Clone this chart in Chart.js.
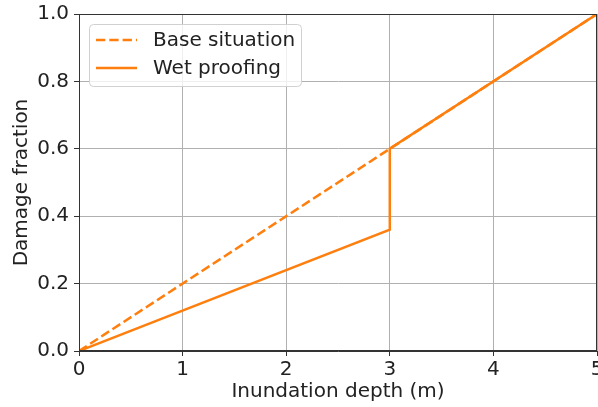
<!DOCTYPE html>
<html><head><meta charset="utf-8">
<script src="https://cdn.jsdelivr.net/npm/chart.js@4"></script>
<style>html,body{margin:0;padding:0;background:#fff}#wrap{width:598px;height:407px}</style>
</head><body><div id="wrap"><canvas id="c" width="598" height="407"></canvas></div>
<script>
const baseX = [0, 5];
const baseY = [0, 1];
const wetX = [0, 3, 3, 5];
const wetY = [0, 0.36, 0.6, 1];
const xTicks = [0, 1, 2, 3, 4, 5];
const yTicks = [0, 0.2, 0.4, 0.6, 0.8, 1.0];
const seriesLabels = ['Base situation', 'Wet proofing'];
const FONT = 'DejaVu Sans';
const ORANGE = '#ff7f0e';
const FS = 20;

const toPts = (xs, ys) => xs.map((x, i) => ({x, y: ys[i]}));

const framePlugin = {
  id: 'frame',
  afterDatasetsDraw(chart) {
    const {ctx, chartArea: a} = chart;
    ctx.save();
    ctx.strokeStyle = '#333';
    ctx.lineWidth = 1;
    ctx.strokeRect(a.left + 0.5, a.top + 0.5, a.right - a.left - 1, a.bottom - a.top - 1);
    // legend
    const x0 = 89.5, y0 = 24.5, w = 212, h = 62, r = 4;
    ctx.beginPath();
    ctx.moveTo(x0 + r, y0);
    ctx.arcTo(x0 + w, y0, x0 + w, y0 + h, r);
    ctx.arcTo(x0 + w, y0 + h, x0, y0 + h, r);
    ctx.arcTo(x0, y0 + h, x0, y0, r);
    ctx.arcTo(x0, y0, x0 + w, y0, r);
    ctx.closePath();
    ctx.fillStyle = 'rgba(255,255,255,0.8)';
    ctx.fill();
    ctx.strokeStyle = '#d0d0d0';
    ctx.stroke();
    ctx.font = FS + 'px "' + FONT + '"';
    ctx.textBaseline = 'middle';
    ctx.fillStyle = '#222';
    chart.data.datasets.forEach((ds, i) => {
      const yy = 40 + i * 28;
      ctx.strokeStyle = ds.borderColor;
      ctx.lineWidth = 2.5;
      ctx.setLineDash(ds.borderDash || []);
      ctx.beginPath();
      ctx.moveTo(96, yy);
      ctx.lineTo(137, yy);
      ctx.stroke();
      ctx.setLineDash([]);
      ctx.fillText(ds.label, 153, yy + 1);
    });
    ctx.restore();
  }
};

new Chart(document.getElementById('c'), {
  type: 'scatter',
  data: {
    datasets: [
      {label: seriesLabels[0], data: toPts(baseX, baseY), showLine: true, borderColor: ORANGE, borderWidth: 2.5, borderDash: [9.3, 4], pointRadius: 0, fill: false},
      {label: seriesLabels[1], data: toPts(wetX, wetY), showLine: true, borderColor: ORANGE, borderWidth: 2.5, pointRadius: 0, fill: false}
    ]
  },
  options: {
    responsive: false,
    animation: false,
    devicePixelRatio: 1,
    layout: {padding: {top: 14, right: 1, left: 0, bottom: 0}, autoPadding: false},
    plugins: {legend: {display: false}, tooltip: {enabled: false}},
    scales: {
      x: {
        type: 'linear', min: 0, max: 5,
        afterBuildTicks: s => { s.ticks = xTicks.map(v => ({value: v})); },
        afterFit: s => { s.height = 56; s.paddingLeft = 0; s.paddingRight = 0; },
        grid: {color: '#b0b0b0', lineWidth: 1, tickLength: 5, tickColor: '#333', drawOnChartArea: true},
        border: {color: '#333', width: 1},
        ticks: {font: {family: FONT, size: FS}, color: '#222', padding: 2, maxRotation: 0, callback: v => String(v)},
        title: {display: true, text: 'Inundation depth (m)', font: {family: FONT, size: FS}, color: '#222', padding: {top: 0, bottom: 3}}
      },
      y: {
        type: 'linear', min: 0, max: 1,
        afterBuildTicks: s => { s.ticks = yTicks.map(v => ({value: v})); },
        afterFit: s => { s.width = 79; s.paddingTop = 0; s.paddingBottom = 0; },
        grid: {color: '#b0b0b0', lineWidth: 1, tickLength: 5, tickColor: '#333'},
        border: {color: '#333', width: 1},
        ticks: {font: {family: FONT, size: FS}, color: '#222', padding: 5, callback: v => v.toFixed(1)},
        title: {display: true, text: 'Damage fraction', font: {family: FONT, size: FS}, color: '#222', padding: {top: 10, bottom: 0}}
      }
    }
  },
  plugins: [framePlugin]
});
</script>
</body></html>
